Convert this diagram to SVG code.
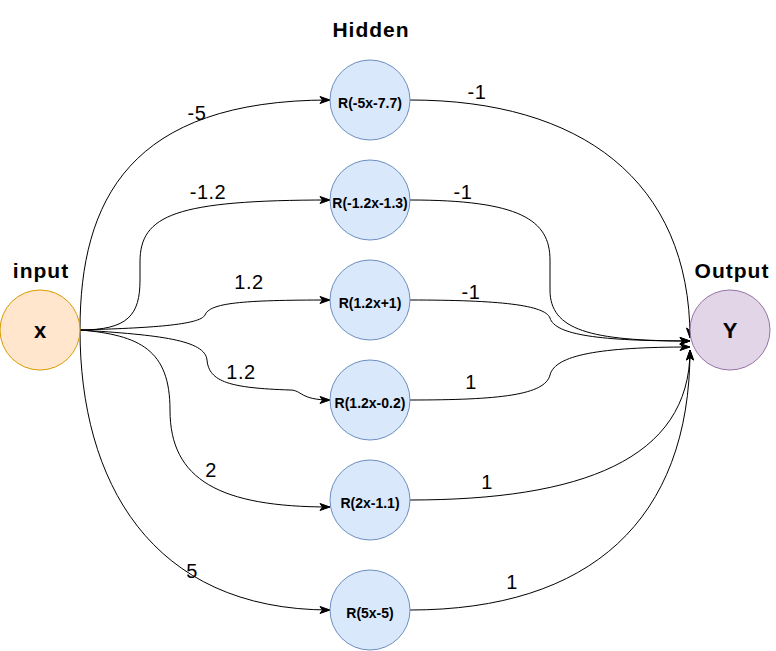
<svg xmlns="http://www.w3.org/2000/svg" width="776" height="651" viewBox="0 0 776 651">
<defs>
<marker id="arr" markerUnits="userSpaceOnUse" markerWidth="12" markerHeight="10" refX="10" refY="3.5" orient="auto" overflow="visible">
<path d="M0,0 L10,3.5 L0,7 L2.5,3.5 Z" fill="#000" stroke="#000" stroke-width="1"/>
</marker>
<style>
.edge{fill:none;stroke:#000;stroke-width:1;marker-end:url(#arr)}
.lbl{font-family:"Liberation Sans",Arial,Helvetica,sans-serif;font-size:20px;fill:#000;text-anchor:middle;letter-spacing:0.5px}
.hid circle{fill:#dae8fc;stroke:#6c8ebf;stroke-width:1}
.ntxt{font-family:"Liberation Sans",Arial,Helvetica,sans-serif;font-size:14px;font-weight:bold;fill:#000;text-anchor:middle}
.title{font-family:"Liberation Sans",Arial,Helvetica,sans-serif;font-size:21px;font-weight:bold;fill:#000;text-anchor:middle;letter-spacing:1px}
.big{font-family:"Liberation Sans",Arial,Helvetica,sans-serif;font-size:22px;font-weight:bold;fill:#000;text-anchor:middle}
</style>
</defs>
<rect width="776" height="651" fill="#fff"/>

<g id="connectors">
<path class="edge" d="M80,330 C80,200 130,100 330,100"/>
<path class="edge" d="M80,330 C128,330 140,315 140,280 L140,262 C140,215 175,200 330,200"/>
<path class="edge" d="M80,330 C150,328 200,325 205,315 C210,303 240,300 330,300"/>
<path class="edge" d="M80,330 C160,335 205,340 207,360 C209,382 230,388 290,390 C302,390 300,400 330,400"/>
<path class="edge" d="M80,330 C140,335 170,350 170,410 C170,480 220,507 330,507"/>
<path class="edge" d="M80,330 C80,480 150,610 330,610"/>

<path class="edge" d="M410,100 C580,100 690,180 690,338"/>
<path class="edge" d="M410,200 C520,200 550,220 550,260 L550,290 C550,330 590,341 690,341"/>
<path class="edge" d="M410,300 C500,300 545,305 550,318 C555,335 600,341 690,341"/>
<path class="edge" d="M410,400 C500,400 545,395 550,375 C555,355 600,347 690,347"/>
<path class="edge" d="M410,500 C580,500 690,460 690,350"/>
<path class="edge" d="M410,610 C590,610 690,520 690,350"/>

<text class="lbl" x="197" y="120">-5</text>
<text class="lbl" x="208" y="199">-1.2</text>
<text class="lbl" x="249" y="289">1.2</text>
<text class="lbl" x="241" y="379">1.2</text>
<text class="lbl" x="211" y="477">2</text>
<text class="lbl" x="192" y="578">5</text>
<text class="lbl" x="477" y="99">-1</text>
<text class="lbl" x="463" y="199">-1</text>
<text class="lbl" x="471" y="299">-1</text>
<text class="lbl" x="471" y="389">1</text>
<text class="lbl" x="487" y="489">1</text>
<text class="lbl" x="512" y="589">1</text>
</g>

<g id="title-hidden"><text class="title" x="371" y="37">Hidden</text></g>

<g id="input">
<text class="title" x="41" y="278">input</text>
<circle cx="40" cy="330" r="40" fill="#ffe6cc" stroke="#d79b00" stroke-width="1"/>
<text class="big" x="40" y="338">x</text>
</g>

<g id="output">
<text class="title" x="732" y="278">Output</text>
<circle cx="730" cy="330" r="40" fill="#e1d5e7" stroke="#9673a6" stroke-width="1"/>
<text class="big" x="730" y="338">Y</text>
</g>

<g id="h1" class="hid"><circle cx="370" cy="100" r="40"/><text class="ntxt" x="370" y="107.5">R(-5x-7.7)</text></g>
<g id="h2" class="hid"><circle cx="370" cy="200" r="40"/><text class="ntxt" x="370" y="207.5">R(-1.2x-1.3)</text></g>
<g id="h3" class="hid"><circle cx="370" cy="300" r="40"/><text class="ntxt" x="370" y="307.5">R(1.2x+1)</text></g>
<g id="h4" class="hid"><circle cx="370" cy="400" r="40"/><text class="ntxt" x="370" y="407.5">R(1.2x-0.2)</text></g>
<g id="h5" class="hid"><circle cx="370" cy="500" r="40"/><text class="ntxt" x="370" y="507.5">R(2x-1.1)</text></g>
<g id="h6" class="hid"><circle cx="370" cy="610" r="40"/><text class="ntxt" x="370" y="617.5">R(5x-5)</text></g>
</svg>
